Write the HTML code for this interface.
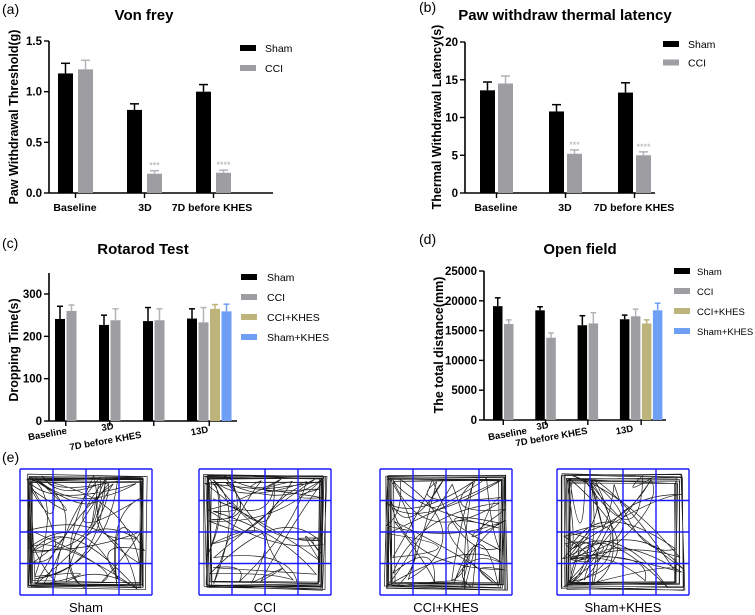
<!DOCTYPE html>
<html><head><meta charset="utf-8"><style>
html,body{margin:0;padding:0;background:#fff;}
svg{display:block;font-family:"Liberation Sans",Arial,sans-serif;}
</style></head><body>
<svg id="fig" width="755" height="615" viewBox="0 0 755 615"></svg>
<script>
// ---- Panel (a) data ----
const aCats = ["Baseline","3D","7D before KHES"];
const aSham = [1.18,0.82,1.00];
const aShamErr = [0.10,0.06,0.07];
const aCCI = [1.22,0.19,0.20];
const aCCIErr = [0.09,0.03,0.025];
const aTicks = [0,0.5,1.0,1.5];
const aTickLabels = ["0.0","0.5","1.0","1.5"];
const aStars = ["","***","****"];
// ---- Panel (b) data ----
const bCats = ["Baseline","3D","7D before KHES"];
const bSham = [13.6,10.8,13.3];
const bShamErr = [1.1,0.9,1.3];
const bCCI = [14.5,5.2,5.0];
const bCCIErr = [1.0,0.5,0.45];
const bTicks = [0,5,10,15,20];
const bStars = ["","***","****"];
// ---- Panel (c) data ----
const cCats = ["Baseline","3D","7D before KHES","13D"];
const cSham = [241,227,236,242];
const cShamErr = [30,23,32,23];
const cCCI = [260,238,238,233];
const cCCIErr = [14,27,27,35];
const cCCIKHES = [null,null,null,265];
const cCCIKHESErr = [null,null,null,10];
const cShamKHES = [null,null,null,259];
const cShamKHESErr = [null,null,null,17];
const cTicks = [0,100,200,300];
// ---- Panel (d) data ----
const dCats = ["Baseline","3D","7D before KHES","13D"];
const dSham = [19100,18400,15900,16900];
const dShamErr = [1400,600,1600,700];
const dCCI = [16100,13800,16200,17400];
const dCCIErr = [700,800,1800,1200];
const dCCIKHES = [null,null,null,16200];
const dCCIKHESErr = [null,null,null,600];
const dShamKHES = [null,null,null,18400];
const dShamKHESErr = [null,null,null,1200];
const dTicks = [0,5000,10000,15000,20000,25000];

const NS="http://www.w3.org/2000/svg";
const svg=document.getElementById('fig');
function mk(tag,attrs,parent,text){const e=document.createElementNS(NS,tag);for(const k in attrs)e.setAttribute(k,attrs[k]);if(text!==undefined)e.textContent=text;(parent||svg).appendChild(e);return e;}

const COLORS={sham:"#000000",cci:"#9d9da2",ccik:"#bdb47c",shamk:"#6e9ff5"};
const ERRC={sham:"#000000",cci:"#b4b4b8",ccik:"#bdb47c",shamk:"#6e9ff5"};

function panel(cfg){
  const g=mk('g',{});
  
  
  const y=v=>cfg.y0-(v-cfg.ymin)/(cfg.ymax-cfg.ymin)*(cfg.y0-cfg.y1);
  const lt=mk('text',{x:cfg.letterX,y:cfg.letterY,'font-size':14},g,cfg.letter);
  
  const tt=mk('text',{x:cfg.titleX,y:cfg.titleY,'font-size':15,'font-weight':'bold','text-anchor':'middle'},g,cfg.title);
  
  const ya=mk('line',{x1:cfg.x0,x2:cfg.x0,y1:cfg.y0,y2:cfg.yTop,stroke:'#000','stroke-width':1.6},g);
  
  cfg.ticks.forEach((t,i)=>{
    mk('line',{x1:cfg.x0-5,x2:cfg.x0,y1:y(t),y2:y(t),stroke:'#000','stroke-width':1.4},g);
    const tl=mk('text',{x:cfg.x0-7,y:y(t)+4,'font-size':11.5,'font-weight':'bold','text-anchor':'end'},g,cfg.tickLabels?cfg.tickLabels[i]:String(t));
    
  });
  const yt=mk('text',{x:0,y:0,'font-size':12.5,'font-weight':'bold','text-anchor':'middle',transform:`translate(${cfg.ytX},${cfg.ytY}) rotate(-90)`},g,cfg.yTitle);
  
  const xa=mk('line',{x1:cfg.x0,x2:cfg.xEnd,y1:cfg.y0,y2:cfg.y0,stroke:'#000','stroke-width':1.6},g);
  
  cfg.cats.forEach((c,k)=>{
    const start=cfg.gStart+k*cfg.gStep;
    let n=0;cfg.series.forEach(s=>{if(s.vals[k]!=null)n++;});
    const cx=start+((n-1)*cfg.bStep+cfg.bw)/2;
    mk('line',{x1:cx,x2:cx,y1:cfg.y0,y2:cfg.y0+5,stroke:'#000','stroke-width':1.4},g);
    let bi=0;
    cfg.series.forEach(s=>{
      const v=s.vals[k];if(v==null)return;
      const bx=start+bi*cfg.bStep;bi++;
      const r=mk('rect',{x:bx,y:y(v),width:cfg.bw,height:cfg.y0-y(v),fill:COLORS[s.key]},g);
      
      const e=s.err[k];const mx=bx+cfg.bw/2;
      mk('line',{x1:mx,x2:mx,y1:y(v),y2:y(v+e),stroke:ERRC[s.key],'stroke-width':1.5},g);
      mk('line',{x1:mx-cfg.bw*0.3,x2:mx+cfg.bw*0.3,y1:y(v+e),y2:y(v+e),stroke:ERRC[s.key],'stroke-width':1.5},g);
      if(s.stars&&s.stars[k]){
        const st=mk('text',{x:mx,y:y(v+e)-2,'font-size':9,fill:'#aaa','text-anchor':'middle'},g,s.stars[k]);
        
      }
    });
    const lp=cfg.xLabelPos[k];
    const xl=mk('text',{x:0,y:0,'font-size':cfg.xfs,'font-weight':'bold','text-anchor':'middle',transform:`translate(${lp[0]},${lp[1]}) rotate(${cfg.xrot})`},g,c);
    
  });
  cfg.series.forEach((s,i)=>{
    const ly=cfg.legY+i*cfg.legStep;
    const lg=mk('g',{},g);
    
    mk('rect',{x:cfg.legX,y:ly-3,width:16,height:6,fill:COLORS[s.key]},lg);
    mk('text',{x:cfg.legX+cfg.legTx,y:ly+4,'font-size':cfg.legFs},lg,s.label);
  });
}

panel({name:'panel-a-von-frey',letter:'(a)',letterX:2,letterY:14,title:'Von frey',titleX:144,titleY:20,
  x0:49,y0:193,y1:41,yTop:41,ymin:0,ymax:1.5,ticks:aTicks,tickLabels:aTickLabels,xEnd:273,
  yTitle:'Paw Withdrawal Threshold(g)',ytX:18,ytY:117,cats:aCats,gStart:58,gStep:69,bStep:20,bw:15,
  series:[{key:'sham',label:'Sham',vals:aSham,err:aShamErr},{key:'cci',label:'CCI',vals:aCCI,err:aCCIErr,stars:aStars}],
  xLabelPos:[[75,211],[145,211],[212,211]],xrot:0,xfs:10.5,legX:240,legY:48,legStep:20,legTx:25,legFs:10.5});

panel({name:'panel-b-thermal-latency',letter:'(b)',letterX:419,letterY:12,title:'Paw withdraw thermal latency',titleX:565,titleY:20,
  x0:465,y0:193,y1:42,yTop:42,ymin:0,ymax:20,ticks:bTicks,xEnd:655,
  yTitle:'Thermal Withdrawal Latency(s)',ytX:441,ytY:117,cats:bCats,gStart:480,gStep:69,bStep:18,bw:15,
  series:[{key:'sham',label:'Sham',vals:bSham,err:bShamErr},{key:'cci',label:'CCI',vals:bCCI,err:bCCIErr,stars:bStars}],
  xLabelPos:[[496,211],[565,211],[634,211]],xrot:0,xfs:10.5,legX:663,legY:44,legStep:18.5,legTx:25,legFs:10.5});

panel({name:'panel-c-rotarod',letter:'(c)',letterX:2,letterY:248,title:'Rotarod Test',titleX:143,titleY:254,
  x0:49,y0:421,y1:294,yTop:273,ymin:0,ymax:300,ticks:cTicks,xEnd:237,
  yTitle:'Dropping Time(s)',ytX:18,ytY:350,cats:cCats,gStart:55,gStep:44,bStep:11.5,bw:10,
  series:[{key:'sham',label:'Sham',vals:cSham,err:cShamErr},{key:'cci',label:'CCI',vals:cCCI,err:cCCIErr},
    {key:'ccik',label:'CCI+KHES',vals:cCCIKHES,err:cCCIKHESErr},{key:'shamk',label:'Sham+KHES',vals:cShamKHES,err:cShamKHESErr}],
  xLabelPos:[[48,437],[108,430],[106,444],[200,434]],xrot:-10,xfs:9.5,legX:241,legY:277,legStep:20,legTx:26,legFs:10.5});

panel({name:'panel-d-open-field',letter:'(d)',letterX:419,letterY:244,title:'Open field',titleX:580,titleY:254,
  x0:484,y0:420,y1:271,yTop:271,ymin:0,ymax:25000,ticks:dTicks,xEnd:666,
  yTitle:'The total distance(mm)',ytX:443,ytY:345,cats:dCats,gStart:493,gStep:42.3,bStep:11,bw:9.5,
  series:[{key:'sham',label:'Sham',vals:dSham,err:dShamErr},{key:'cci',label:'CCI',vals:dCCI,err:dCCIErr},
    {key:'ccik',label:'CCI+KHES',vals:dCCIKHES,err:dCCIKHESErr},{key:'shamk',label:'Sham+KHES',vals:dShamKHES,err:dShamKHESErr}],
  xLabelPos:[[508,437],[543,429],[552,440],[625,433]],xrot:-10,xfs:9.5,legX:674,legY:271,legStep:20,legTx:23,legFs:9.5});

// ---- Panel (e): open field track images ----
const eLabels=["Sham","CCI","CCI+KHES","Sham+KHES"];
const boxX=[20,199,380,557];
let seed=7;function rnd(){seed=(seed*16807)%2147483647;return (seed-1)/2147483646;}
const el=mk('text',{x:2,y:462,'font-size':14},svg,'(e)');

boxX.forEach((bx,i)=>{
  const g=mk('g',{});
  
  
  const by=469,w=132,h=126;
  let d='';
  for(let s=0;s<10;s++){
    const m=4+rnd()*7;
    d+=`M${bx+m+rnd()*4},${by+m+rnd()*4} L${bx+w-m-rnd()*4},${by+m+rnd()*5} L${bx+w-m-rnd()*5},${by+h-m-rnd()*4} L${bx+m+rnd()*5},${by+h-m-rnd()*5} Z `;
  }
  let px=bx+10,py=by+10;d+=`M${px},${py} `;
  for(let s=0;s<38;s++){
    const side=Math.floor(rnd()*4);
    if(side===0){px=bx+6+rnd()*(w-12);py=by+6+rnd()*10;}
    else if(side===1){px=bx+w-6-rnd()*10;py=by+6+rnd()*(h-12);}
    else if(side===2){px=bx+6+rnd()*(w-12);py=by+h-6-rnd()*10;}
    else {px=bx+6+rnd()*10;py=by+6+rnd()*(h-12);}
    const cx=bx+20+rnd()*(w-40),cy=by+20+rnd()*(h-40);
    d+=`Q${cx},${cy} ${px},${py} `;
  }
  mk('path',{d:d,fill:'none',stroke:'#1a1a1a','stroke-width':0.7},g);
  for(let k=0;k<=4;k++){
    mk('line',{x1:bx+k*w/4,x2:bx+k*w/4,y1:by,y2:by+h,stroke:'#1a1aff','stroke-width':1.4},g);
    mk('line',{x1:bx,x2:bx+w,y1:by+k*h/4,y2:by+k*h/4,stroke:'#1a1aff','stroke-width':1.4},g);
  }
  const t=mk('text',{x:bx+w/2,y:612,'font-size':13,'text-anchor':'middle'},g,eLabels[i]);
  
});
</script>
</body></html>
